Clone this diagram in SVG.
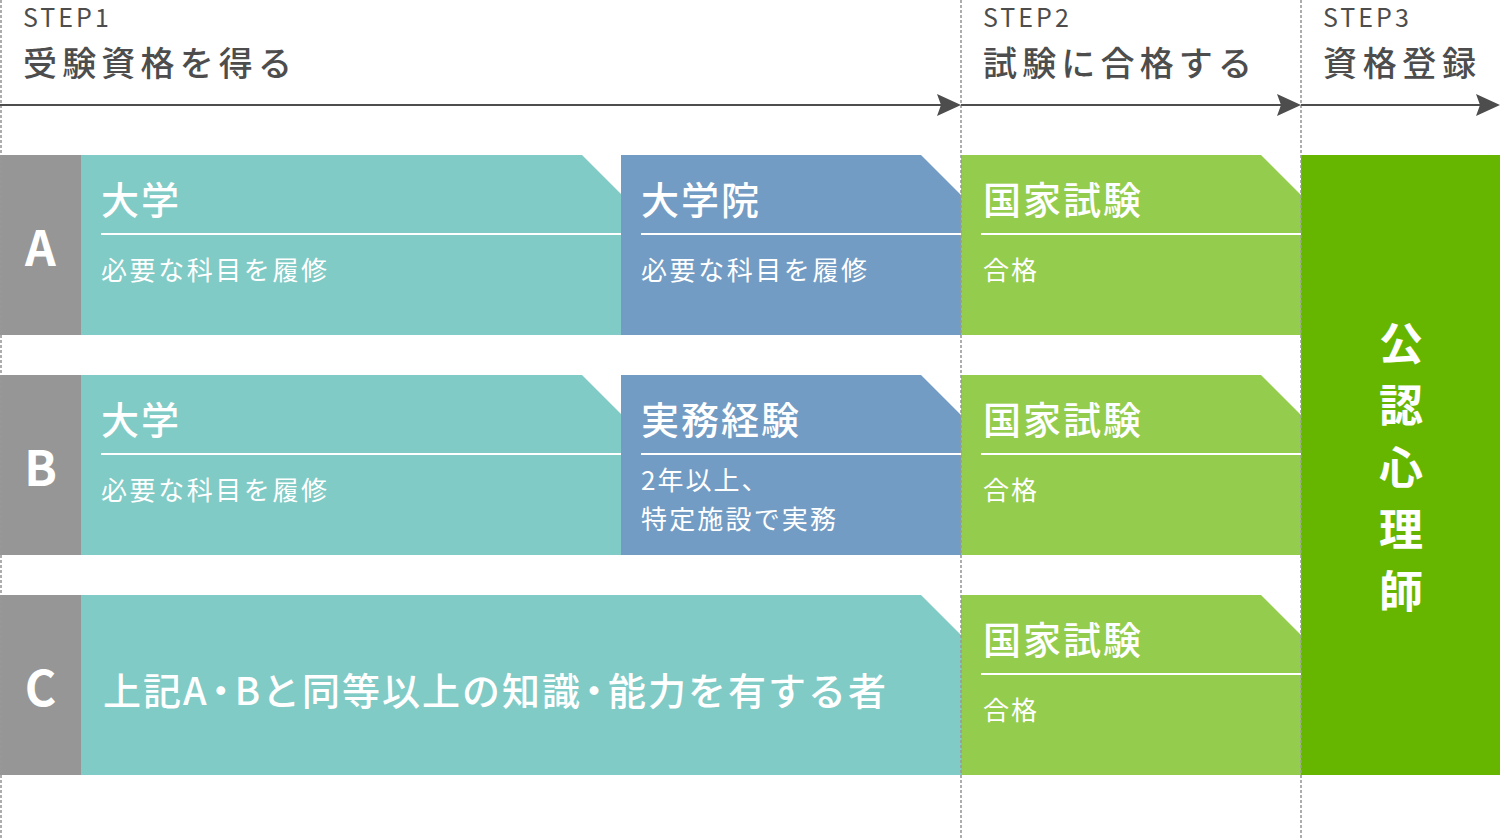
<svg xmlns="http://www.w3.org/2000/svg" width="1500" height="840" viewBox="0 0 1500 840">
  <style>
    text { font-family: "Noto Sans CJK JP", "Noto Sans", sans-serif; }
    .step { fill: #4d4d4d; font-size: 25px; letter-spacing: 3px; }
    .head { fill: #4d4d4d; font-size: 34px; font-weight: 500; }
    .lbl { fill: #ffffff; font-size: 48px; font-weight: 700; text-anchor: middle; }
    .ttl { fill: #ffffff; font-size: 38px; font-weight: 500; letter-spacing: 2px; }
    .sub { fill: #ffffff; font-size: 26px; letter-spacing: 2px; }
    .big { fill: #ffffff; font-size: 38px; font-weight: 500; letter-spacing: 2px; }
    .tight { letter-spacing: -5px; }
    .vert { fill: #ffffff; font-size: 44px; font-weight: 700; text-anchor: middle; }
    .gray { fill: #969696; }
    .teal { fill: #80cbc6; }
    .blue { fill: #729cc4; }
    .lgreen { fill: #94cd4e; }
    .dgreen { fill: #66b600; }
    .div { stroke: #ffffff; stroke-width: 2; }
    .guide { stroke: #999999; stroke-width: 1.6; stroke-dasharray: 3 2; fill: none; }
    .axis { stroke: #4d4d4d; stroke-width: 2; fill: none; }
    .head-arrow { fill: #4d4d4d; }
  </style>

  <rect x="0" y="0" width="1500" height="840" fill="#ffffff"/>

  <!-- headers -->
  <g id="step1">
    <text class="step" x="23" y="27">STEP1</text>
    <text class="head" x="23" y="76" textLength="269" lengthAdjust="spacing">受験資格を得る</text>
  </g>
  <g id="step2">
    <text class="step" x="983" y="27">STEP2</text>
    <text class="head" x="983" y="76" textLength="269" lengthAdjust="spacing">試験に合格する</text>
  </g>
  <g id="step3">
    <text class="step" x="1323" y="27">STEP3</text>
    <text class="head" x="1323" y="76" textLength="153" lengthAdjust="spacing">資格登録</text>
  </g>

  <!-- Row A -->
  <g id="rowA-label">
    <rect class="gray" x="0" y="155" width="81" height="180"/>
    <text class="lbl" x="40.5" y="266">A</text>
  </g>
  <g id="rowA-univ">
    <polygon class="teal" points="81,155 582,155 621,194 621,335 81,335"/>
    <line class="div" x1="101" y1="234" x2="621" y2="234"/>
    <text class="ttl" x="101" y="214">大学</text>
    <text class="sub" x="101" y="279.5" textLength="228" lengthAdjust="spacing">必要な科目を履修</text>
  </g>
  <g id="rowA-grad">
    <polygon class="blue" points="621,155 921,155 961,195 961,335 621,335"/>
    <line class="div" x1="641" y1="234" x2="961" y2="234"/>
    <text class="ttl" x="641" y="214">大学院</text>
    <text class="sub" x="641" y="279.5" textLength="228" lengthAdjust="spacing">必要な科目を履修</text>
  </g>
  <g id="rowA-exam">
    <polygon class="lgreen" points="961,155 1261,155 1301,195 1301,335 961,335"/>
    <line class="div" x1="981" y1="234" x2="1301" y2="234"/>
    <text class="ttl" x="983" y="214">国家試験</text>
    <text class="sub" x="983" y="279.5">合格</text>
  </g>

  <!-- Row B -->
  <g id="rowB-label">
    <rect class="gray" x="0" y="375" width="81" height="180"/>
    <text class="lbl" x="40.5" y="486">B</text>
  </g>
  <g id="rowB-univ">
    <polygon class="teal" points="81,375 582,375 621,414 621,555 81,555"/>
    <line class="div" x1="101" y1="454" x2="621" y2="454"/>
    <text class="ttl" x="101" y="434">大学</text>
    <text class="sub" x="101" y="499.5" textLength="228" lengthAdjust="spacing">必要な科目を履修</text>
  </g>
  <g id="rowB-work">
    <polygon class="blue" points="621,375 921,375 961,415 961,555 621,555"/>
    <line class="div" x1="641" y1="454" x2="961" y2="454"/>
    <text class="ttl" x="641" y="434">実務経験</text>
    <text class="sub" x="641" y="489.5">2年以上、</text>
    <text class="sub" x="641" y="529" textLength="197" lengthAdjust="spacing">特定施設で実務</text>
  </g>
  <g id="rowB-exam">
    <polygon class="lgreen" points="961,375 1261,375 1301,415 1301,555 961,555"/>
    <line class="div" x1="981" y1="454" x2="1301" y2="454"/>
    <text class="ttl" x="983" y="434">国家試験</text>
    <text class="sub" x="983" y="499.5">合格</text>
  </g>

  <!-- Row C -->
  <g id="rowC-label">
    <rect class="gray" x="0" y="595" width="81" height="180"/>
    <text class="lbl" x="40.5" y="706">C</text>
  </g>
  <g id="rowC-equiv">
    <polygon class="teal" points="81,595 921,595 961,635 961,775 81,775"/>
    <text class="big" x="103" y="705">上記<tspan class="tight">A・</tspan>Bと同等以上の知<tspan class="tight">識・</tspan>能力を有する者</text>
  </g>
  <g id="rowC-exam">
    <polygon class="lgreen" points="961,595 1261,595 1301,635 1301,775 961,775"/>
    <line class="div" x1="981" y1="674" x2="1301" y2="674"/>
    <text class="ttl" x="983" y="654">国家試験</text>
    <text class="sub" x="983" y="719.5">合格</text>
  </g>

  <!-- Registration -->
  <g id="registration">
    <rect class="dgreen" x="1301" y="155" width="199" height="620"/>
    <text class="vert" x="1401" y="360">公</text>
    <text class="vert" x="1401" y="422">認</text>
    <text class="vert" x="1401" y="484">心</text>
    <text class="vert" x="1401" y="546">理</text>
    <text class="vert" x="1401" y="608">師</text>
  </g>

  <!-- guides -->
  <g id="guides">
    <line class="guide" x1="1" y1="0" x2="1" y2="840"/>
    <line class="guide" x1="961" y1="0" x2="961" y2="840"/>
    <line class="guide" x1="1301" y1="0" x2="1301" y2="840"/>
  </g>

  <!-- connectors -->
  <g id="connectors">
    <line class="axis" x1="0" y1="105" x2="950" y2="105"/>
    <path class="head-arrow" d="M961,105 L937,94 L941,105 L937,116 Z"/>
    <line class="axis" x1="961" y1="105" x2="1290" y2="105"/>
    <path class="head-arrow" d="M1301,105 L1277,94 L1281,105 L1277,116 Z"/>
    <line class="axis" x1="1301" y1="105" x2="1490" y2="105"/>
    <path class="head-arrow" d="M1500,105 L1476,94 L1480,105 L1476,116 Z"/>
  </g>
</svg>
